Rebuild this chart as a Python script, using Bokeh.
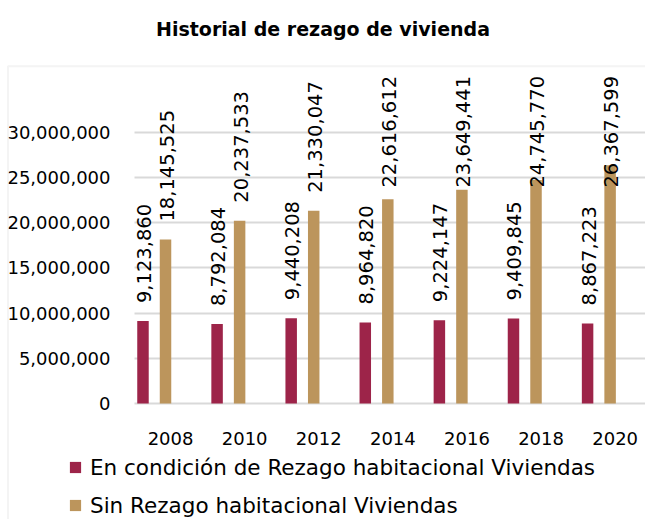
import numpy as np
from bokeh.plotting import figure
from bokeh.models import (ColumnDataSource, FixedTicker, NumeralTickFormatter, Legend,
                          LegendItem, BoxAnnotation, Label, Range1d, Grid)
from bokeh.core.properties import value
from bokeh.embed import file_html
from bokeh.resources import INLINE

# ---- data ----
years = ["2008", "2010", "2012", "2014", "2016", "2018", "2020"]
rezago = [9123860, 8792084, 9440208, 8964820, 9224147, 9409845, 8867223]
sin_rezago = [18145525, 20237533, 21330047, 22616612, 23649441, 24745770, 26367599]
y_ticks = [0, 5000000, 10000000, 15000000, 20000000, 25000000, 30000000]
title_text = "Historial de rezago de vivienda"
series_names = ["En condición de Rezago habitacional Viviendas",
                "Sin Rezago habitacional Viviendas"]
colors = ["#9D2449", "#BC955C"]

FONT = "DejaVu Sans"
W, H = 645, 519
idx = np.arange(len(years), dtype=float)
off = 0.152
bw = 0.155
unit_px = 74.1                 # pixels per category step
val_per_px = 5000000 / 45.17   # data value per pixel
x_start = -153.75 / unit_px
x_end = (W - 153.75) / unit_px
y_start = -116 * val_per_px
y_end = 403 * val_per_px
yaxis_x = (134 - 153.75) / unit_px


def fmt(v):
    return f"{v:,}"


lab_gap = 18 * val_per_px
lab_cap = 23.9e6

src1 = ColumnDataSource(dict(x=idx - off, top=rezago,
                             ly=np.minimum(np.array(rezago) + lab_gap, lab_cap),
                             lab=[fmt(v) for v in rezago]))
src2 = ColumnDataSource(dict(x=idx + off, top=sin_rezago,
                             ly=np.minimum(np.array(sin_rezago) + lab_gap, lab_cap),
                             lab=[fmt(v) for v in sin_rezago]))

p = figure(width=W, height=H, output_backend="svg", toolbar_location=None,
           x_range=Range1d(x_start, x_end), y_range=Range1d(y_start, y_end),
           min_border_left=0, min_border_right=0, min_border_top=0,
           min_border_bottom=0)
p.outline_line_color = None
p.background_fill_color = "white"
p.border_fill_color = "white"
p.xgrid.grid_line_color = None
p.ygrid.grid_line_color = None

# gridlines starting at the value axis
use_grid = "cross_bounds" in Grid.properties()
if use_grid:
    g = Grid(dimension=1, ticker=FixedTicker(ticks=y_ticks), grid_line_color="#d9d9d9",
             grid_line_width=2, cross_bounds=(yaxis_x, x_end))
    p.add_layout(g)
else:
    p.segment(x0=[yaxis_x] * len(y_ticks), x1=[x_end] * len(y_ticks), y0=y_ticks,
              y1=y_ticks, line_color="#d9d9d9", line_width=2)

r1 = p.vbar(x="x", top="top", width=bw, source=src1, fill_color=colors[0], line_color=None)
r2 = p.vbar(x="x", top="top", width=bw, source=src2, fill_color=colors[1], line_color=None)

for s in (src1, src2):
    p.text(x="x", y="ly", text="lab", source=s, angle=np.pi / 2, x_offset=1,
           text_align="left", text_baseline="middle", text_font=value(FONT),
           text_font_size="19.5px", text_color="#000000")

# axes drawn at fixed positions inside the frame
p.xaxis.fixed_location = 0
p.xaxis.ticker = FixedTicker(ticks=list(idx + 0.22))
p.xaxis.major_label_overrides = {float(i + 0.22): y for i, y in zip(idx, years)}
p.xaxis.axis_line_color = None
p.xaxis.major_tick_line_color = None
p.xaxis.minor_tick_line_color = None
p.xaxis.major_label_standoff = 22
p.xaxis.major_label_text_font = FONT
p.xaxis.major_label_text_font_size = "18px"
p.xaxis.major_label_text_color = "#000000"

p.yaxis.fixed_location = yaxis_x
p.yaxis.ticker = FixedTicker(ticks=y_ticks)
p.yaxis.formatter = NumeralTickFormatter(format="0,0")
p.yaxis.axis_line_color = None
p.yaxis.major_tick_line_color = None
p.yaxis.minor_tick_line_color = None
p.yaxis.major_label_standoff = 18
p.yaxis.major_label_text_font = FONT
p.yaxis.major_label_text_font_size = "18px"
p.yaxis.major_label_text_color = "#000000"

# outer box (left and top edges visible)
box = BoxAnnotation(left=7.5, right=5000, top=H - 65.8, bottom=-5000,
                    left_units="screen", right_units="screen",
                    top_units="screen", bottom_units="screen",
                    fill_alpha=0, line_color="#d9d9d9", line_width=2)
p.add_layout(box)

# title
p.add_layout(Label(x=W / 2, y=H - 28, x_units="screen", y_units="screen", text=title_text,
                   text_align="center", text_baseline="middle", text_font=FONT,
                   text_font_size="19px", text_font_style="bold", text_color="#000000"))

legend = Legend(items=[LegendItem(label=series_names[0], renderers=[r1]),
                       LegendItem(label=series_names[1], renderers=[r2])],
                location=(68, 1.5), orientation="vertical", padding=0, margin=0,
                spacing=13, glyph_width=14, glyph_height=14, label_standoff=8,
                label_height=25, label_text_font=FONT, label_text_font_size="21.5px",
                label_text_color="#000000", border_line_color=None,
                background_fill_alpha=0)
p.add_layout(legend)

open("out.html", "w").write(file_html(p, INLINE))
